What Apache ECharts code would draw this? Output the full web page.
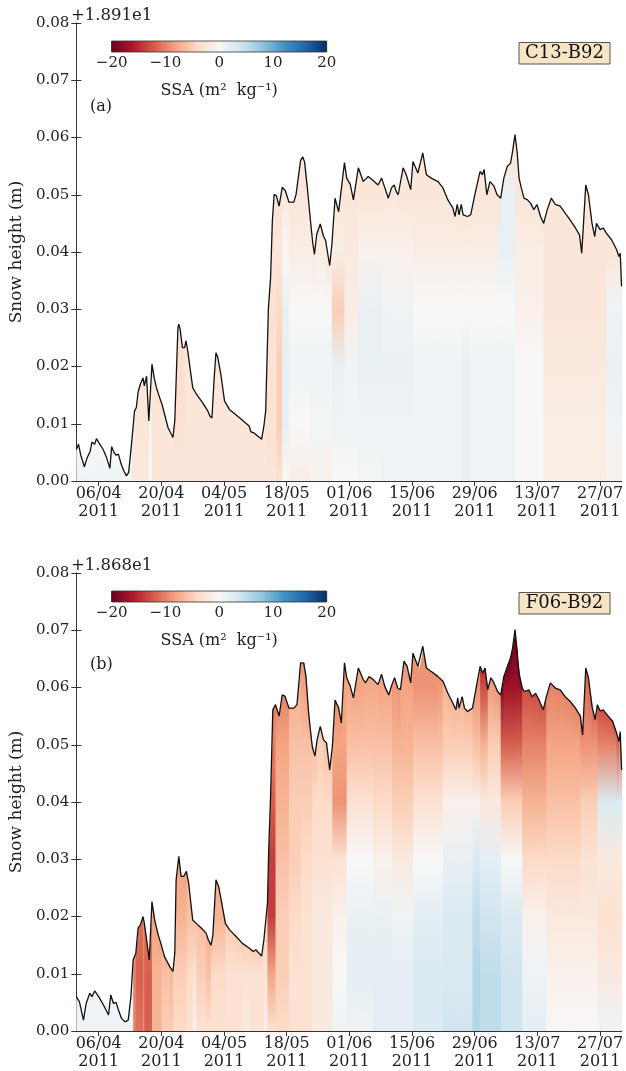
<!DOCTYPE html>
<html><head><meta charset="utf-8">
<script src="https://cdn.jsdelivr.net/npm/echarts@6/dist/echarts.min.js"></script>
<style>html,body{margin:0;padding:0;background:#fff}#c{width:626px;height:1071px}</style>
</head><body><div id="c"></div><script>
// ---------- data (days since 2011-04-01 00:00, snow height in m above offset) ----------
const dayA = [0,0.5,1.0,1.8,2.4,3.1,3.5,4.1,4.5,5.2,6.0,6.8,7.5,7.9,8.4,8.9,9.4,10.0,10.6,11.2,
  11.7,12.4,13.0,13.4,13.8,14.3,14.9,15.2,15.7,16.2,16.9,17.4,17.9,18.6,19.1,19.7,20.5,21.6,22.0,22.7,
  22.9,23.2,23.7,24.2,24.5,24.9,26.0,26.8,28.2,29.4,29.8,30.3,30.8,31.2,31.6,32.3,33.1,34.2,36.4,38.6,
  39.0,39.7,41.4,41.9,42.3,42.9,43.4,43.8,44.2,44.7,45.3,46.0,46.7,47.5,48.6,49.1,50.1,50.6,51.0,51.6,
  52.3,52.8,53.2,53.7,54.5,55.2,55.7,56.6,57.1,57.8,58.6,59.9,60.4,61.2,61.9,63.0,64.1,64.5,65.2,66.3,
  67.4,68.2,68.8,69.7,70.4,71.0,71.5,71.9,73.0,73.7,74.7,75.2,76.3,77.4,78.2,79.3,80.8,81.9,83.0,84.1,
  84.6,85.1,85.5,86.0,86.4,87.4,88.1,89.1,90.2,90.7,91.1,91.7,92.4,93.3,94.0,94.8,95.5,96.3,97.0,97.4,
  98.0,98.5,98.9,99.4,100.0,100.8,101.5,102.2,102.9,103.7,104.4,105.2,106.1,107.0,108.1,109.2,110.3,111.5,112.4,112.9,
  113.3,113.8,114.4,115.2,115.8,116.2,117.0,117.7,118.4,119.6,120.7,121.2,121.5,121.8];
const heightA = [0.0055,0.0064,0.0045,0.0025,0.0040,0.0052,0.0068,0.0064,0.0074,0.0065,0.0055,0.0040,0.0022,0.0060,0.0050,0.0045,0.0047,0.0030,0.0018,0.0009,
  0.0015,0.0070,0.0122,0.0128,0.0155,0.0169,0.0180,0.0166,0.0183,0.0105,0.0204,0.0180,0.0163,0.0146,0.0135,0.0117,0.0093,0.0076,0.0105,0.0268,
  0.0274,0.0265,0.0233,0.0233,0.0245,0.0227,0.0163,0.0152,0.0137,0.0122,0.0114,0.0110,0.0180,0.0224,0.0216,0.0186,0.0140,0.0125,0.0111,0.0096,
  0.0086,0.0084,0.0073,0.0096,0.0122,0.0300,0.0355,0.0455,0.0501,0.0498,0.0480,0.0513,0.0507,0.0487,0.0487,0.0501,0.0560,0.0566,0.0557,0.0513,
  0.0455,0.0417,0.0396,0.0431,0.0449,0.0428,0.0420,0.0376,0.0414,0.0494,0.0470,0.0556,0.0529,0.0518,0.0491,0.0547,0.0523,0.0520,0.0532,0.0525,
  0.0517,0.0529,0.0515,0.0494,0.0512,0.0517,0.0505,0.0500,0.0547,0.0535,0.0509,0.0558,0.0538,0.0573,0.0535,0.0529,0.0523,0.0512,0.0491,0.0477,
  0.0462,0.0483,0.0465,0.0483,0.0465,0.0462,0.0465,0.0503,0.0541,0.0535,0.0544,0.0500,0.0523,0.0515,0.0500,0.0494,0.0529,0.0550,0.0555,0.0573,
  0.0605,0.0573,0.0529,0.0512,0.0494,0.0491,0.0485,0.0474,0.0483,0.0462,0.0450,0.0474,0.0494,0.0483,0.0480,0.0468,0.0456,0.0442,0.0430,0.0398,
  0.0450,0.0517,0.0500,0.0450,0.0427,0.0450,0.0439,0.0442,0.0433,0.0421,0.0404,0.0392,0.0398,0.0340];

const dayB = [0,0.7,1.6,2.2,3.0,3.5,4.1,5.0,6.1,7.2,7.7,8.3,8.9,9.4,10.1,10.9,11.6,12.2,12.7,13.3,
  13.8,14.3,14.9,15.2,15.7,16.3,16.9,17.5,18.3,19.0,19.7,20.9,21.6,22.0,22.3,22.9,23.4,24.0,24.6,25.1,
  26.0,26.8,27.9,29.0,29.5,30.1,30.5,31.2,31.8,32.5,33.3,34.2,35.7,37.1,38.6,39.5,40.1,41.4,41.9,42.7,
  43.0,43.4,43.9,44.5,45.3,46.0,46.6,47.5,48.6,49.3,50.1,50.8,51.3,51.9,52.7,53.3,53.8,54.5,55.2,55.9,
  56.6,57.2,57.8,58.6,59.2,59.9,60.4,61.2,61.9,63.0,64.1,64.6,65.4,66.3,67.4,68.2,68.9,69.8,70.5,71.1,
  71.8,72.4,73.2,73.9,74.7,75.2,76.3,76.7,77.4,78.2,79.3,80.8,81.9,83.0,84.1,84.8,85.2,85.5,86.2,86.7,
  87.4,88.5,89.3,90.2,90.8,91.3,91.9,92.6,93.3,94.1,94.8,95.5,96.3,97.0,97.4,98.0,98.5,98.9,99.6,100.1,
  101.1,101.8,102.6,103.3,104.3,105.0,105.9,107.0,108.1,109.2,110.3,111.5,112.6,113.1,113.5,113.8,114.4,115.2,115.9,116.4,
  117.0,117.7,118.8,119.8,120.7,121.2,121.5,121.8];
const heightB = [0.0060,0.0051,0.0019,0.0048,0.0066,0.0060,0.0070,0.0060,0.0045,0.0028,0.0063,0.0048,0.0050,0.0037,0.0022,0.0016,0.0019,0.0060,0.0124,0.0136,
  0.0180,0.0185,0.0200,0.0188,0.0159,0.0124,0.0226,0.0194,0.0168,0.0150,0.0130,0.0112,0.0104,0.0136,0.0264,0.0305,0.0270,0.0270,0.0279,0.0258,
  0.0194,0.0188,0.0180,0.0171,0.0159,0.0150,0.0167,0.0264,0.0252,0.0223,0.0188,0.0177,0.0165,0.0153,0.0145,0.0139,0.0142,0.0131,0.0159,0.0223,
  0.0322,0.0410,0.0561,0.0570,0.0550,0.0587,0.0585,0.0564,0.0564,0.0570,0.0643,0.0643,0.0619,0.0555,0.0497,0.0480,0.0509,0.0532,0.0509,0.0503,
  0.0456,0.0497,0.0578,0.0564,0.0538,0.0643,0.0617,0.0602,0.0582,0.0634,0.0614,0.0608,0.0619,0.0614,0.0605,0.0623,0.0602,0.0587,0.0605,0.0617,
  0.0599,0.0596,0.0646,0.0637,0.0608,0.0660,0.0637,0.0634,0.0672,0.0634,0.0628,0.0619,0.0611,0.0590,0.0573,0.0561,0.0582,0.0564,0.0584,0.0564,
  0.0558,0.0564,0.0599,0.0637,0.0625,0.0634,0.0596,0.0617,0.0608,0.0593,0.0587,0.0619,0.0637,0.0652,0.0666,0.0701,0.0660,0.0625,0.0599,0.0593,
  0.0596,0.0584,0.0590,0.0579,0.0561,0.0584,0.0608,0.0599,0.0596,0.0584,0.0576,0.0564,0.0550,0.0517,0.0584,0.0634,0.0617,0.0567,0.0544,0.0570,
  0.0559,0.0561,0.0550,0.0541,0.0520,0.0506,0.0523,0.0456];

// SSA difference profiles: each row = [surface, at 0.00, 0.01, 0.02, 0.03, 0.04, 0.05, 0.06 m]
const ssaLevels = [0, 0.01, 0.02, 0.03, 0.04, 0.05, 0.06];
const segStartA = [0,12,16,16.8,22,24,42,44.3,45.4,47,52,57,59.5,62,68,75,86,88,94,98,104,118];
const ssaProfA = [
  [0,1,1,1,1,1,1,1],[-2.5,-2,-2.5,-2.5,-2.5,-2.5,-2.5,-2.5],[-2,0,-1,-2,-2,-2,-2,-2],[-2.5,-2.5,-2.5,-2.5,-2.5,-2.5,-2.5,-2.5],
  [-3.5,-2.5,-3,-3.5,-3.5,-3.5,-3.5,-3.5],[-2.5,-2.5,-2.5,-2.5,-2.5,-2.5,-2.5,-2.5],[-3,-2.5,-3,-3,-3,-2.5,-2.5,-2.5],[-3,-3,-5,-5,-4,-2.5,-2.5,-2.5],
  [-2.5,0,1.5,1.5,1.5,0,-2.5,-2.5],[-2.5,-1.5,0,1,0,-1.5,-2.5,-2.5],[-2.5,-1,0.5,1,0,-1.5,-2.5,-2.5],[-2.5,0,1,1.5,-5,-1.5,-2.5,-2.5],
  [-2.5,0,1,1,-1.5,-2,-2.5,-2.5],[-2.5,0.5,1,1.5,1.5,-1,-2.5,-2.5],[-2.5,1,1,1.5,1,-1,-2.5,-2.5],[-2.5,1,1,1,0,-1.5,-2.5,-2.5],
  [-2.5,1.5,1.5,1.5,0,-1.5,-2.5,-2.5],[-2.5,1,1,1,0,-1.5,-2.5,-2.5],[-2.5,1,1,1,0,1.5,1.5,-2.5],[-2.5,0,0,0,-1,-1.5,-2.5,-2.5],
  [-2.5,-1.5,-1.5,-2,-2.5,-2.5,-2.5,-2.5],[-2.5,-1,1,1.5,1,-2.5,-2.5,-2.5]];
const segStartB = [0,12.4,13.0,14.5,15.2,16.4,19.0,21.0,22.2,24.5,25.3,26.4,28.5,30.0,33.0,36.5,38.5,41.5,42.7,44.5,
  47.0,50.0,52.0,57.0,60.0,66.0,70.0,75.0,81.5,87.5,89.6,91.9,94.8,99.0,104.4,112.6,116.4];
const ssaProfB = [
  [1,1,1,1,1,1,1,1],[-9,-10,-10,-10,-10,-10,-10,-10],[-11,-11,-12,-11,-11,-11,-11,-11],[-9,-9,-10,-9,-9,-9,-9,-9],
  [-11,-12,-12,-10,-10,-10,-10,-10],[-8,-7,-7,-8,-8,-8,-8,-8],[-7,-5,-6,-7,-7,-7,-7,-7],[-6,-4,-5,-6,-6,-6,-6,-6],
  [-8,-4,-5,-7,-8,-8,-8,-8],[-7,-3,-4,-6,-7,-7,-7,-7],[-6,-1,-3,-5,-6,-6,-6,-6],[-6,-3,-5,-6,-6,-6,-6,-6],
  [-7,-3,-6,-7,-7,-7,-7,-7],[-7,-3,-4,-7,-7,-7,-7,-7],[-5,-3,-3,-4,-5,-5,-5,-5],[-5,-2,-3,-4,-5,-5,-5,-5],
  [-5,-3,-3,-4,-5,-5,-5,-5],[-5,-1,-3,-4,-4,-4,-4,-4],[-10,-3,-8,-14,-14,-12,-10,-10],[-10,-4,-5,-5,-6,-7,-8,-10],
  [-7,-3,-3,-4,-5,-5,-6,-7],[-9,-3,-3,-3,-4,-5,-6,-8],[-6,-2,-2,-2,-3,-4,-5,-6],[-9,1,0,-1,-3,-9,-8,-8],
  [-8,1,2,1.5,0,-3,-6,-8],[-8,2,2,1.5,-1,-4,-6,-8],[-9,2,2,1,-2,-5,-7,-8],[-9,3,3,2,0,-3,-6,-9],
  [-7,4,3,3,1.5,-1,-5,-7],[-9,6,6,5,3,-1,-6,-9],[-15,5,5,4,2,-2,-7,-13],[-9,5,5,4,2,-2,-5,-8],
  [-20,4,4,3,0,-5,-12,-17],[-13,2,1,-1,-4,-7,-10,-12],[-10,0,-1,-2,-4,-6,-8,-10],[-12,0,-1,-2,-3,-5,-9,-11],
  [-13,1,-2,-3,-2,3,-10,-12]];

const xTickDays = [5,19,33,47,61,75,89,103,117];
const xTickLabels = ['06/04','20/04','04/05','18/05','01/06','15/06','29/06','13/07','27/07'];
const yearLabel = '2011';
const dayMin = 0, dayMax = 121.8;
const cbarTicks = [-20,-10,0,10,20];
const cbarName = 'SSA (m\u00b2  kg\u207b\u00b9)';
const offsetLabels = ['+1.891e1', '+1.868e1'];
const panelLetters = ['(a)', '(b)'];
const siteLabels = ['C13-B92', 'F06-B92'];
const rdbuR = ['#67001f','#b2182b','#d6604d','#f4a582','#fddbc7','#f7f7f7','#d1e5f0','#92c5de','#4393c3','#2166ac','#053061'];

// ---------- helpers ----------
const FONT = '"DejaVu Serif", "Liberation Serif", serif';
function hex2rgb(h){return [parseInt(h.substr(1,2),16),parseInt(h.substr(3,2),16),parseInt(h.substr(5,2),16)];}
const cmapRGB = rdbuR.map(hex2rgb);
function ssaColor(v){
  let t = (v + 20) / 40; t = Math.max(0, Math.min(1, t));
  const p = t * (cmapRGB.length - 1); let i = Math.floor(p); if (i >= cmapRGB.length - 1) i = cmapRGB.length - 2;
  const f = p - i, a = cmapRGB[i], b = cmapRGB[i+1];
  return 'rgb(' + [0,1,2].map(k => Math.round(a[k] + (b[k]-a[k]) * f)).join(',') + ')';
}
function fieldData(days, hs){
  const out = [];
  for (let i = 0; i < days.length - 1; i++) out.push([days[i], hs[i], days[i+1], hs[i+1]]);
  return out;
}
function makeRender(segStart, prof){
  return function(params, api){
    const t0 = api.value(0), h0 = api.value(1), t1 = api.value(2), h1 = api.value(3);
    const a0 = api.coord([t0, 0]), a1 = api.coord([t0, h0]), b1 = api.coord([t1, h1]), b0 = api.coord([t1, 0]);
    let k = 0; for (let j = 0; j < segStart.length; j++) if (segStart[j] <= t0 + 1e-9) k = j;
    const row = prof[k];
    const top = Math.max(h0, h1);
    const yTop = api.coord([t0, top])[1], yBot = a0[1];
    const stops = [{offset: 0, color: ssaColor(row[0])}];
    for (let L = ssaLevels.length - 1; L >= 0; L--) {
      const lv = ssaLevels[L];
      if (lv < top - 0.002) stops.push({offset: 1 - lv / top, color: ssaColor(row[L + 1])});
    }
    if (stops.length === 1) stops.push({offset: 1, color: ssaColor(row[0])});
    return {
      type: 'polygon',
      shape: {points: [a0, a1, [b1[0] + 0.7, b1[1]], [b0[0] + 0.7, b0[1]]]},
      style: {fill: {type: 'linear', x: 0, y: yTop, x2: 0, y2: yBot, global: true, colorStops: stops}, stroke: null}
    };
  };
}
function cbarRender(params, api){
  const p0 = api.coord([api.value(0), 1]), p1 = api.coord([api.value(1), 0]);
  const stops = rdbuR.map((c, i) => ({offset: i / (rdbuR.length - 1), color: c}));
  return {type: 'rect', shape: {x: p0[0], y: p0[1], width: p1[0] - p0[0], height: p1[1] - p0[1]},
    style: {fill: {type: 'linear', x: p0[0], y: 0, x2: p1[0], y2: 0, global: true, colorStops: stops}, stroke: '#333', lineWidth: 0.8}};
}

// ---------- layout ----------
const L = 73, W = 550.3, H = 458;
const panelTop = [23, 573];
const AX = '#333';
const grids = [], xAxes = [], yAxes = [], series = [], graphics = [];
panelTop.forEach((top, p) => {
  grids.push({left: L, top: top, width: W, height: H});
  grids.push({left: 111.7, top: top + 18, width: 215, height: 11});
});
panelTop.forEach((top, p) => {
  const g = p * 2, cg = p * 2 + 1;
  const base = {gridIndex: g, type: 'value', min: dayMin, max: dayMax, splitLine: {show: false},
    axisLine: {lineStyle: {color: AX, width: 1}},
    axisTick: {inside: true, length: 5, customValues: xTickDays, lineStyle: {color: AX}}};
  xAxes.push(Object.assign({}, base, {position: 'bottom',
    axisLabel: {customValues: xTickDays, margin: 4, fontFamily: FONT, fontSize: 16, color: '#222', lineHeight: 18,
      formatter: v => { const i = xTickDays.indexOf(Math.round(v)); return (i >= 0 ? xTickLabels[i] : '') + '\n' + yearLabel; }}}));
  xAxes.push(Object.assign({}, base, {position: 'top', axisLabel: {show: false}}));
  const yb = {gridIndex: g, type: 'value', min: 0, max: 0.08, interval: 0.01, splitLine: {show: false},
    axisLine: {show: true, lineStyle: {color: AX, width: 1}},
    axisTick: {inside: true, length: 5, lineStyle: {color: AX}}};
  yAxes.push(Object.assign({}, yb, {position: 'left',
    name: 'Snow height (m)', nameLocation: 'middle', nameGap: 47,
    nameTextStyle: {fontFamily: FONT, fontSize: 17, color: '#222'},
    axisLabel: {margin: 7, fontFamily: FONT, fontSize: 15, color: '#222', formatter: v => v.toFixed(2)}}));
  yAxes.push(Object.assign({}, yb, {position: 'right', axisLabel: {show: false}}));
  // colorbar axes
  xAxes.push({gridIndex: cg, type: 'value', min: -20, max: 20, interval: 10, position: 'bottom', splitLine: {show: false},
    axisLine: {show: false}, axisTick: {inside: true, length: 11, lineStyle: {color: '#333', width: 0.8}},
    axisLabel: {margin: 4, fontFamily: FONT, fontSize: 15, color: '#222',
      formatter: v => (v < 0 ? '\u2212' + Math.abs(v) : String(v))},
    name: cbarName, nameLocation: 'middle', nameGap: 31, nameTextStyle: {fontFamily: FONT, fontSize: 16, color: '#222'}});
  yAxes.push({gridIndex: cg, type: 'value', min: 0, max: 1, show: false});
});

const datasets = [[dayA, heightA, segStartA, ssaProfA], [dayB, heightB, segStartB, ssaProfB]];
datasets.forEach((d, p) => {
  series.push({type: 'custom', xAxisIndex: p * 3, yAxisIndex: p * 3, clip: true, silent: true,
    renderItem: makeRender(d[2], d[3]), encode: {x: [0, 2], y: [1, 3]}, data: fieldData(d[0], d[1]), z: 1});
  series.push({type: 'line', xAxisIndex: p * 3, yAxisIndex: p * 3, showSymbol: false, silent: true,
    lineStyle: {color: '#111', width: 1.3}, data: d[0].map((x, i) => [x, d[1][i]]), z: 3});
  series.push({type: 'custom', xAxisIndex: p * 3 + 2, yAxisIndex: p * 3 + 2, silent: true,
    renderItem: cbarRender, encode: {x: [0, 1]}, data: [[cbarTicks[0], cbarTicks[cbarTicks.length - 1]]], z: 1});
  const top = panelTop[p];
  graphics.push({type: 'text', x: 71, y: top - 7, style: {text: offsetLabels[p], font: '16.5px ' + FONT, fill: '#222', align: 'left', verticalAlign: 'middle'}});
  graphics.push({type: 'text', x: 90, y: top + 84 + p * 8, style: {text: panelLetters[p], font: '16px ' + FONT, fill: '#222', align: 'left', verticalAlign: 'middle'}});
  graphics.push({type: 'rect', shape: {x: 519, y: top + 19.5, width: 91, height: 21.5}, style: {fill: '#f6e4c4', stroke: '#555', lineWidth: 1}, z: 10});
  graphics.push({type: 'text', x: 564.5, y: top + 30.5, style: {text: siteLabels[p], font: '18px ' + FONT, fill: '#111', align: 'center', verticalAlign: 'middle'}, z: 11});
});

const chart = echarts.init(document.getElementById('c'), null, {renderer: 'canvas'});
chart.setOption({animation: false, backgroundColor: '#fff', grid: grids, xAxis: xAxes, yAxis: yAxes, series: series, graphic: graphics});
</script></body></html>
